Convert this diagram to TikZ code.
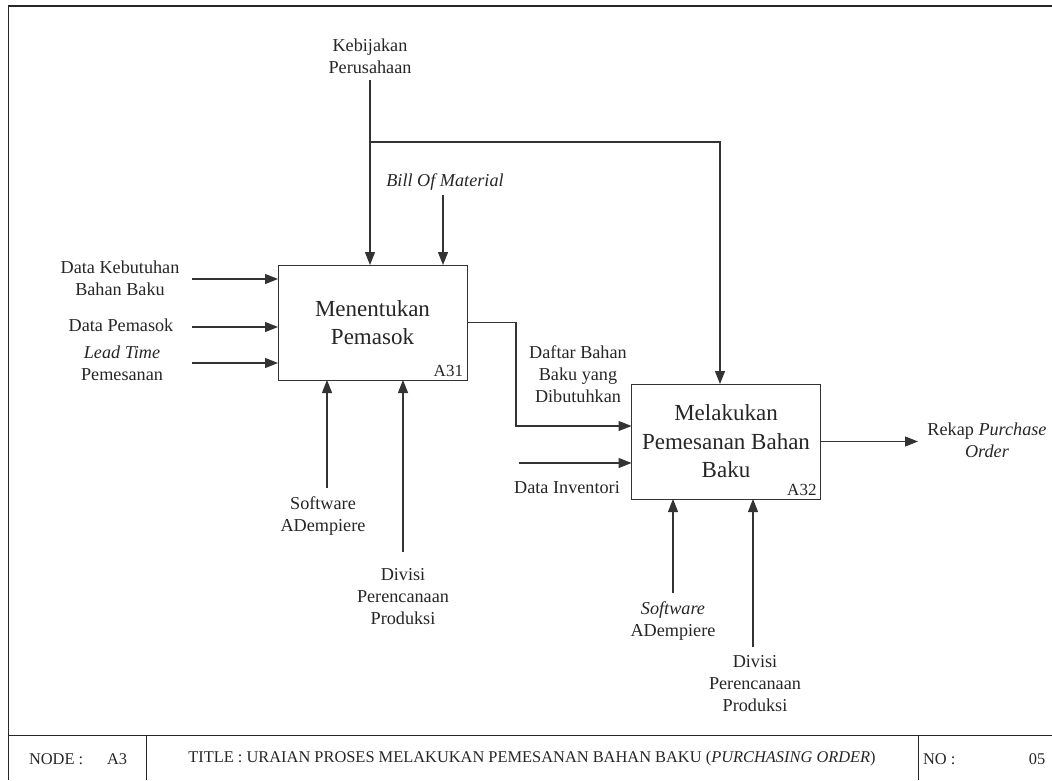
\documentclass[tikz,border=0pt]{standalone}
\usepackage{fontspec}
\setmainfont{Liberation Serif}
\usetikzlibrary{arrows.meta}

\begin{document}
\begin{tikzpicture}[x=1pt,y=-1pt,
  every node/.style={inner sep=0pt, outer sep=0pt},
  lbl/.style={align=center, font=\fontsize{18.2}{22}\selectfont, text=black!85},
  actbox/.style={draw=black!80, line width=1pt, minimum width=189pt, minimum height=115pt,
                 align=center, font=\fontsize{23}{28.5}\selectfont, text=black!85},
  code/.style={font=\fontsize{17}{20}\selectfont, text=black!85, anchor=south east},
  arr/.style={draw=black!80, line width=1.1pt, -{Triangle[length=13pt,width=10pt]}},
  frame/.style={draw=black!85, line width=1pt},
  foot/.style={font=\fontsize{16.4}{19}\selectfont, text=black!85}]

\useasboundingbox (0,0) rectangle (1052,780);

% sheet frame and title row
\draw[frame, line width=1.8pt] (8,6) -- (1052,6);
\draw[frame] (8,6) -- (8,780);
\draw[frame] (8,735) -- (1052,735);
\draw[frame] (146,735) -- (146,780);
\draw[frame] (918,735) -- (918,780);
\node[foot, anchor=west] (nodelbl) at (29,759) {NODE :};
\node[foot, anchor=west] (nodeval) at (107,759) {A3};
\node[foot] (title) at (532,759) {TITLE : URAIAN PROSES MELAKUKAN PEMESANAN BAHAN BAKU (\textit{PURCHASING ORDER})};
\node[foot, anchor=west] (nolbl) at (923,759) {NO :};
\node[foot] (noval) at (1037,759) {05};

% activity boxes
\node[actbox] (a31) at (372.5,322.5) {Menentukan\\Pemasok};
\node[code] (a31code) at ([xshift=-4pt,yshift=3pt]a31.south east) {A31};
\node[actbox] (a32) at (726,441.5) {Melakukan\\Pemesanan Bahan\\Baku};
\node[code] (a32code) at ([xshift=-4pt,yshift=3pt]a32.south east) {A32};

% controls
\node[lbl] (kebijakan) at (370,56) {Kebijakan\\Perusahaan};
\coordinate (kstart) at (370,80);
\coordinate (ksplit) at (370,142);
\draw[arr] (kstart) -- (kstart |- a31.north);
\draw[arr] (ksplit) -| ([xshift=-6pt]a32.north);

\node[lbl] (bom) at (445,182) {\textit{Bill Of Material}};
\coordinate (bomstart) at (443,195);
\draw[arr] (bomstart) -- (bomstart |- a31.north);

% inputs of A31
\node[lbl] (in1) at (120,278) {Data Kebutuhan\\Bahan Baku};
\node[lbl] (in2) at (121,325) {Data Pemasok};
\node[lbl] (in3) at (122,363) {\textit{Lead Time}\\Pemesanan};
\coordinate (in1s) at (192,279);
\coordinate (in2s) at (192,327);
\coordinate (in3s) at (192,363);
\draw[arr] (in1s) -- (in1s -| a31.west);
\draw[arr] (in2s) -- (in2s -| a31.west);
\draw[arr] (in3s) -- (in3s -| a31.west);

% mechanisms of A31
\node[lbl] (m1) at (323,516) {Software\\ADempiere};
\node[lbl] (m2) at (403,597) {Divisi\\Perencanaan\\Produksi};
\coordinate (m1s) at (327,488);
\coordinate (m2s) at (403,552);
\draw[arr] (m1s) -- (m1s |- a31.south);
\draw[arr] (m2s) -- (m2s |- a31.south);

% A31 output feeding A32
\node[lbl] (daftar) at (578,374) {Daftar Bahan\\Baku yang\\Dibutuhkan};
\draw[arr] (a31.east) -- (516,322.5) |- ([yshift=15.5pt]a32.west);

% second input of A32
\node[lbl] (inv) at (567,488) {Data Inventori};
\coordinate (invs) at (519,463);
\draw[arr] (invs) -- ([yshift=-21.5pt]a32.west);

% output of A32
\node[lbl] (rekap) at (987,440) {Rekap \textit{Purchase}\\\textit{Order}};
\coordinate (outend) at (918,441.5);
\draw[arr] (a32.east) -- (outend);

% mechanisms of A32
\node[lbl] (m3) at (673,621) {\textit{Software}\\ADempiere};
\node[lbl] (m4) at (755,684) {Divisi\\Perencanaan\\Produksi};
\coordinate (m3s) at (673,593);
\coordinate (m4s) at (753,647);
\draw[arr] (m3s) -- (m3s |- a32.south);
\draw[arr] (m4s) -- (m4s |- a32.south);

\end{tikzpicture}
\end{document}
